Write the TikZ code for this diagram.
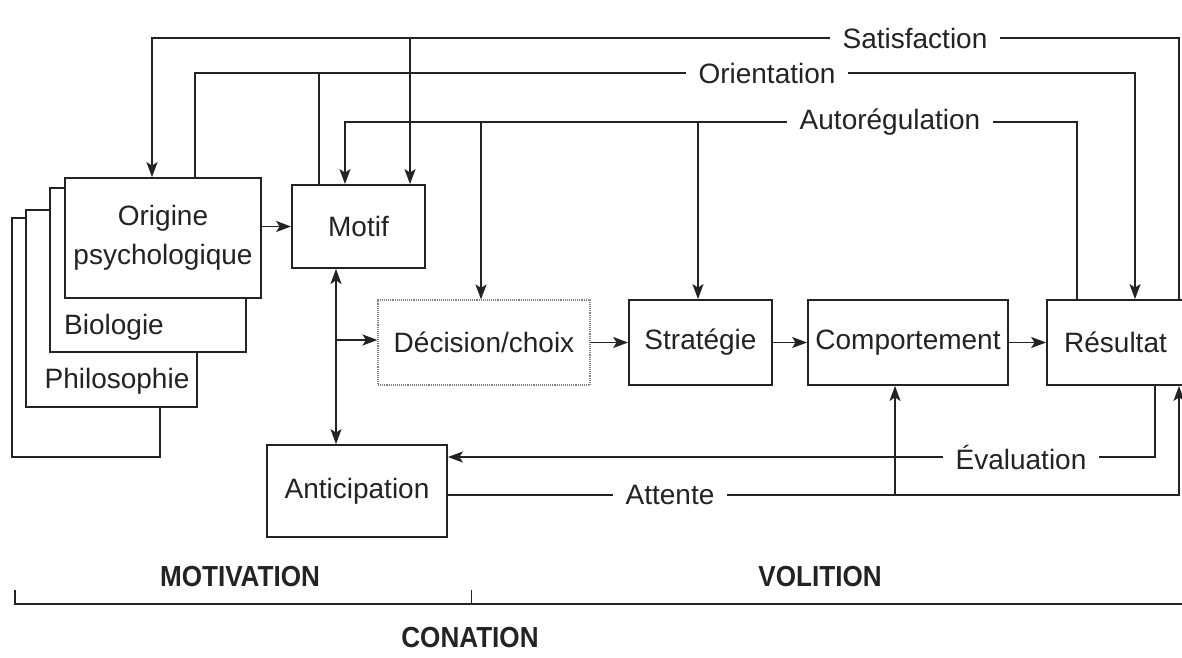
\documentclass[tikz,border=0pt]{standalone}
\usepackage{fontspec}
\setmainfont{Liberation Sans}
\newfontfamily\labfont[FakeStretch=0.9]{Liberation Sans}
\usetikzlibrary{arrows.meta}
\definecolor{ink}{RGB}{35,35,35}
\begin{document}
\begin{tikzpicture}[x=1pt,y=-1pt,
  font=\fontsize{28}{39}\selectfont,
  line width=1.8pt, draw=ink, text=ink,
  box/.style={draw=ink, fill=white, inner sep=0pt, align=center},
  arr/.style={-{Stealth[length=15pt,width=11pt,inset=3.5pt]}},
  arrb/.style={{Stealth[length=15pt,width=11pt,inset=3.5pt]}-{Stealth[length=15pt,width=11pt,inset=3.5pt]}},
  lbl/.style={fill=white, inner xsep=13pt, inner ysep=3pt},
  big/.style={font=\labfont\fontsize{29}{32}\selectfont\bfseries}]
\useasboundingbox (0,0) rectangle (1182,657);

% stacked boxes
\node[box, minimum width=148pt, minimum height=239pt] (outer) at (86,337.5) {};
\node[box, minimum width=171pt, minimum height=197pt] (philo) at (111.5,308.5) {};
\node (philoT) at (117,381) {Philosophie};
\node[box, minimum width=196pt, minimum height=164pt] (bio) at (148,270) {};
\node (bioT) at (114,327) {Biologie};
\node[box, minimum width=196pt, minimum height=120pt] (orig) at (163,238) {Origine\\psychologique};

% main boxes
\node[box, minimum width=133pt, minimum height=83pt] (motif) at (358.5,226.5) {Motif};
\node[box, minimum width=180pt, minimum height=92pt] (anticip) at (357,491) {Anticipation};
\node[box, draw=gray, line width=1.1pt, densely dotted, minimum width=212pt, minimum height=85pt] (decision) at (484,342.5) {D\'ecision/choix};
\node[box, minimum width=143pt, minimum height=85pt] (strat) at (700.5,342.5) {Strat\'egie};
\node[box, minimum width=200pt, minimum height=85pt] (comport) at (908,342.5) {Comportement};
\node[box, minimum width=137pt, minimum height=85pt] (result) at (1115.5,342.5) {R\'esultat};

% helper coordinates
\coordinate (satR) at (1179,38);
\coordinate (satL) at (152,38);
\coordinate (satM) at (410,38);
\coordinate (oriL) at (195,73);
\coordinate (oriM) at (319,73);
\coordinate (oriR) at (1135,73);
\coordinate (autL) at (345,122);
\coordinate (autD) at (481,122);
\coordinate (autS) at (698,122);
\coordinate (autR) at (1077,122);
\coordinate (evR) at (1155,457);
\coordinate (atR) at (1179,495);
\coordinate (atC) at (895,495);
\coordinate (mx) at (336,340);

% chain
\draw[arr] (orig.east |- motif.west) -- (motif.west);
\draw[arr] (decision.east) -- (strat.west);
\draw[arr] (strat.east) -- (comport.west);
\draw[arr] (comport.east) -- (result.west);
\draw[arrb] (motif.south -| mx) -- (anticip.north -| mx);
\draw[arr] (mx) -- (decision.west |- mx);

% feedback loops
\draw[arr] (result.north -| satR) -- (satR) -- (satL) -- (orig.north -| satL);
\draw[arr] (satM) -- (motif.north -| satM);
\draw[arr] (orig.north -| oriL) -- (oriL) -- (oriR) -- (result.north -| oriR);
\draw (motif.north -| oriM) -- (oriM);
\draw[arr] (result.north -| autR) -- (autR) -- (autL) -- (motif.north -| autL);
\draw[arr] (autD) -- (decision.north -| autD);
\draw[arr] (autS) -- (strat.north -| autS);
\draw[arr] (result.south -| evR) -- (evR) -- (anticip.east |- evR);
\draw[arr] (anticip.east |- atR) -- (atR) -- (result.south -| atR);
\draw[arr] (atC) -- (comport.south -| atC);

% labels on loops
\node[lbl] (lsat) at (915,38) {Satisfaction};
\node[lbl] (lori) at (767,73) {Orientation};
\node[lbl] (laut) at (890,122) {Autor\'egulation};
\node[lbl] (leva) at (1021,457) {\'Evaluation};
\node[lbl] (latt) at (670,495) {Attente};

% bottom bracket
\coordinate (bL) at (15,604);
\coordinate (bLt) at (15,590);
\coordinate (bM) at (471,604);
\coordinate (bMt) at (471,590);
\coordinate (bR) at (1182,604);
\draw (bLt) -- (bL) -- (bR);
\draw[line width=0.8pt] (bMt) -- (bM);
\node[big] (mot) at (240,577) {MOTIVATION};
\node[big] (vol) at (820,577) {VOLITION};
\node[big] (con) at (470,638) {CONATION};
\end{tikzpicture}
\end{document}
